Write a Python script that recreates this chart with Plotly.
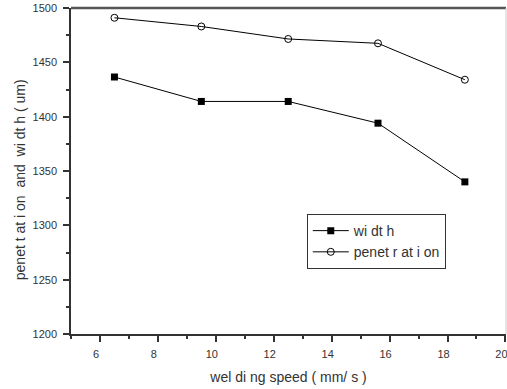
import plotly.graph_objects as go

speed = [6.5, 9.5, 12.5, 15.6, 18.6]
width = [1436.5, 1414, 1414, 1394, 1340]
penetration = [1491, 1483, 1471.5, 1467.5, 1434]

FONT = "Liberation Sans"
TXT = "#333333"

fig = go.Figure()
fig.add_trace(go.Scatter(
    x=speed, y=width, mode="lines+markers", name="wi dt h",
    line=dict(color="black", width=1),
    marker=dict(symbol="square", size=7, color="black", line=dict(color="black", width=0)),
))
fig.add_trace(go.Scatter(
    x=speed, y=penetration, mode="lines+markers", name="penet r at i on",
    line=dict(color="black", width=1),
    marker=dict(symbol="circle-open", size=7, color="black", line=dict(color="black", width=1)),
))

fig.update_layout(
    width=507, height=389,
    margin=dict(l=71, r=1, t=8, b=55),
    paper_bgcolor="white", plot_bgcolor="white",
    font=dict(family=FONT, size=11, color=TXT),
    showlegend=True,
    legend=dict(
        x=0.542, y=0.368, xanchor="left", yanchor="top",
        bordercolor="#333333", borderwidth=1, bgcolor="white",
        font=dict(family=FONT, size=14, color=TXT),
        tracegroupgap=0, itemwidth=36,
    ),
    xaxis=dict(
        range=[5, 20.02], tickvals=[6, 8, 10, 12, 14, 16, 18, 20],
        showgrid=False, zeroline=False, automargin=False,
        showline=True, linecolor="#333333", linewidth=1.5,
        ticks="outside", ticklen=6, tickwidth=1.5, tickcolor="#333333",
        minor=dict(dtick=1, ticks="outside", ticklen=3, tickwidth=1.5, tickcolor="#333333"),
        ticklabelshift=-4, ticklabelstandoff=3, ticklabeloverflow="allow",
        tickfont=dict(family=FONT, size=11, color=TXT),
        title=dict(text="wel di ng speed ( mm/ s )", font=dict(family=FONT, size=14, color=TXT), standoff=13),
    ),
    yaxis=dict(
        range=[1200, 1500], dtick=50,
        showgrid=False, zeroline=False, automargin=False,
        showline=True, linecolor="#333333", linewidth=1.5,
        ticks="outside", ticklen=6, tickwidth=1.5, tickcolor="#333333",
        minor=dict(dtick=25, ticks="outside", ticklen=3, tickwidth=1.5, tickcolor="#333333"),
        ticklabelstandoff=4,
        tickfont=dict(family=FONT, size=11, color=TXT),
    ),
    annotations=[
        dict(text="penet t at i on  and  wi dt h ( um)", xref="paper", yref="paper",
             x=-0.117, y=0.472, xanchor="center", yanchor="middle", textangle=-90,
             showarrow=False, font=dict(family=FONT, size=14, color=TXT)),
    ],
    shapes=[
        dict(type="line", xref="paper", yref="paper", x0=0, x1=1, y0=1, y1=1,
             line=dict(color="#555555", width=2.5)),
        dict(type="line", xref="paper", yref="paper", x0=1, x1=1, y0=0, y1=1,
             line=dict(color="#cccccc", width=1)),
    ],
)

fig.write_html("out.html", config={"displayModeBar": False},
               post_script="document.body.style.margin='0';document.body.style.overflow='hidden';")
